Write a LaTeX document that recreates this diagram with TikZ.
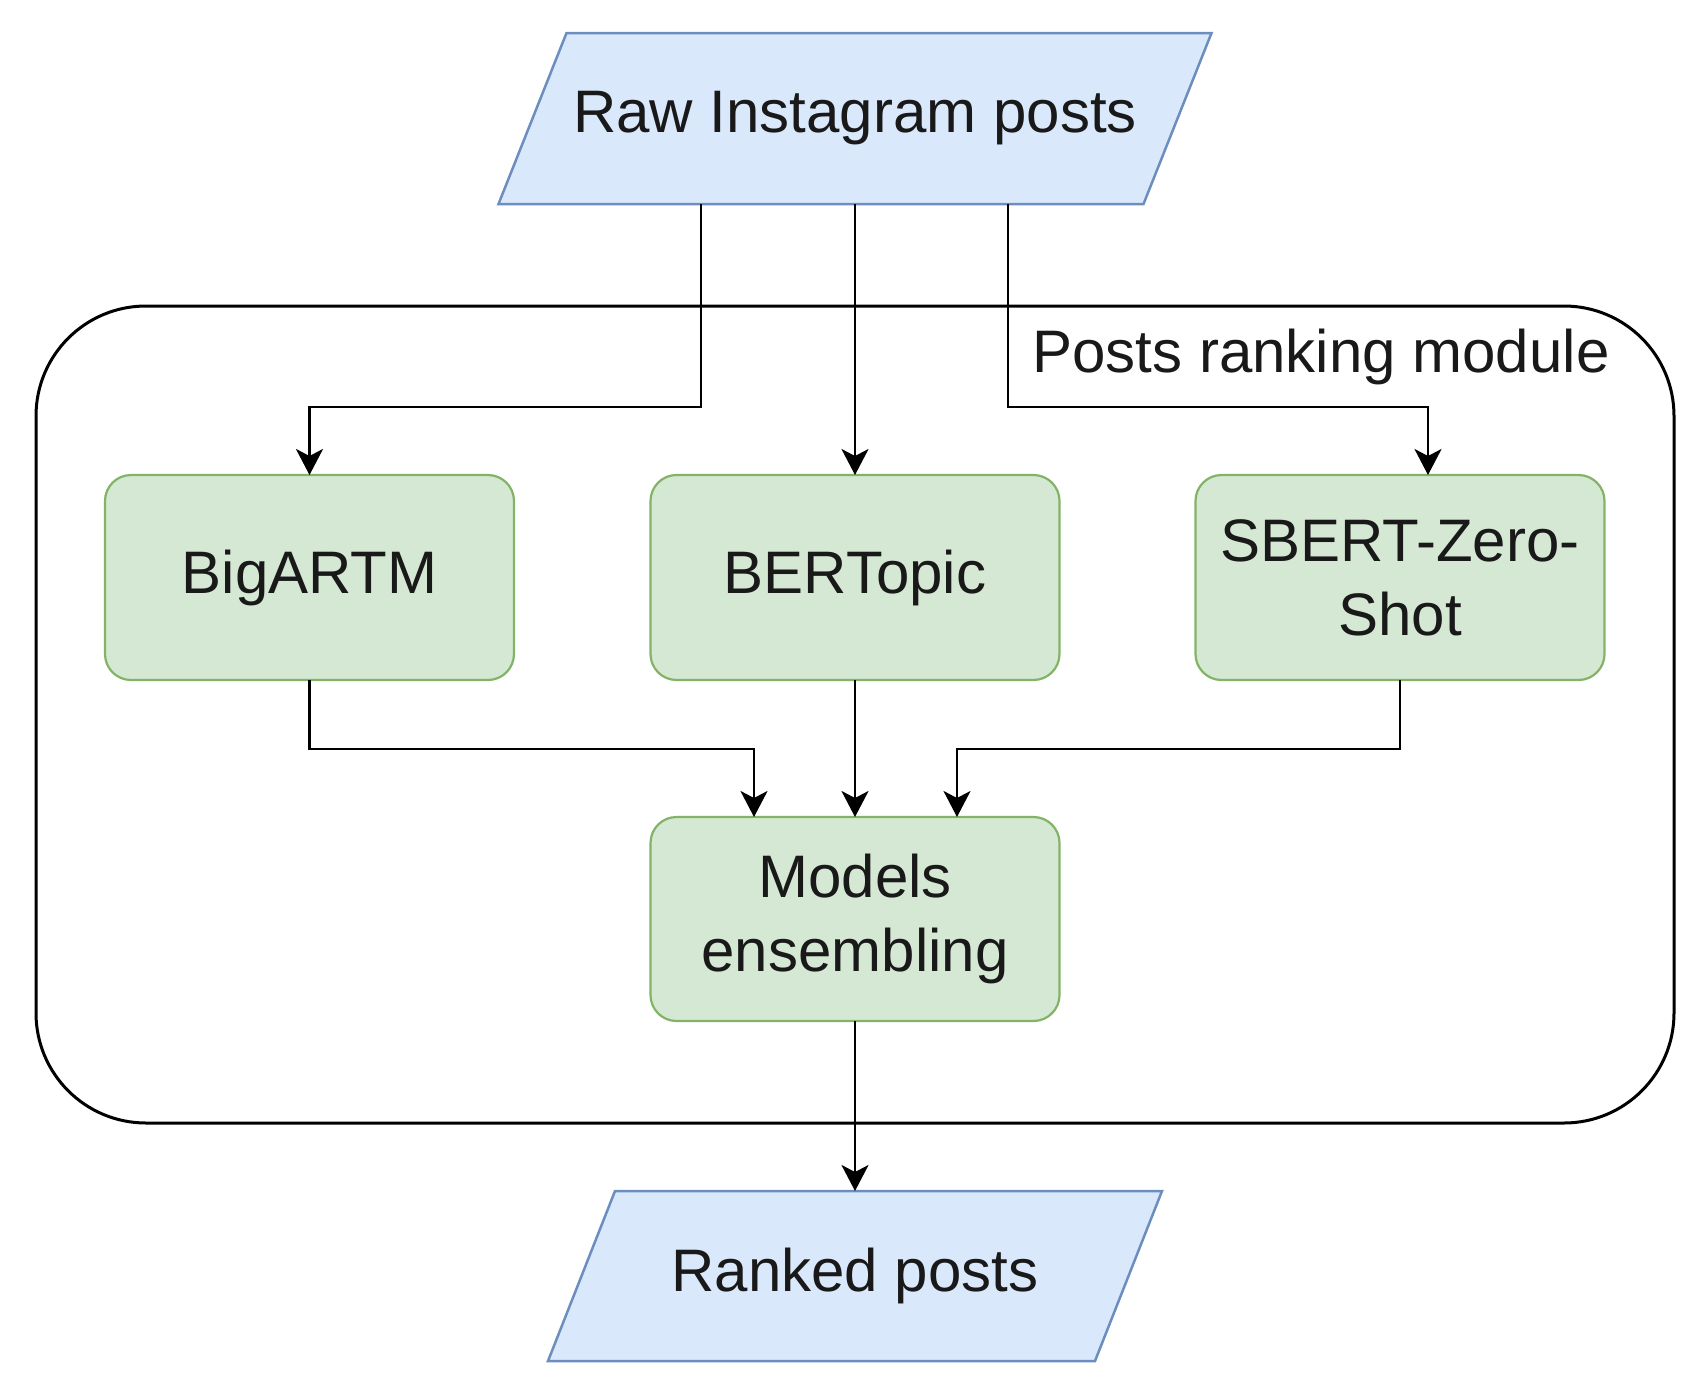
\documentclass[tikz,border=0pt]{standalone}
\usepackage{fontspec}
\setmainfont{Liberation Sans}
\usetikzlibrary{arrows.meta,calc,backgrounds}
\definecolor{bluefill}{HTML}{DAE8FC}
\definecolor{bluedraw}{HTML}{6C8EBF}
\definecolor{greenfill}{HTML}{D5E8D4}
\definecolor{greendraw}{HTML}{82B366}
\tikzset{
  txt/.style={font=\fontsize{60}{74}\selectfont, align=center, text=black!90},
  iobox/.style={txt, draw=none, minimum height=171pt, inner sep=0pt, outer sep=0pt},
  para/.style={fill=bluefill, draw=bluedraw, line width=2.5pt, line join=miter},
  model/.style={txt, rectangle, rounded corners=26pt, fill=greenfill, draw=greendraw,
    line width=2.2pt, minimum width=409pt, minimum height=205pt, inner sep=0pt, outer sep=0pt},
  conn/.style={line width=2.5pt, -{Stealth[length=26pt,width=27pt,inset=7pt]}},
  frame/.style={draw=black, line width=3pt, rounded corners=110pt, minimum width=1638pt,
    minimum height=817pt, inner sep=0pt, outer sep=0pt}
}
\begin{document}
\begin{tikzpicture}[x=1pt,y=-1pt]
\useasboundingbox (0,0) rectangle (1699,1384);
% container
\node[frame] (module) at (855,714.5) {};
\node[txt, anchor=center] (modlabel) at (1321,357) {Posts ranking module};
% input / output
\node[iobox, minimum width=645pt] (raw) at (855,118.5) {Raw Instagram posts};
\node[iobox, minimum width=547pt, minimum height=170pt] (ranked) at (855,1276) {Ranked posts};
\begin{pgfonlayer}{background}
\draw[para] ($(raw.north west)+(34,0)$) -- ($(raw.north east)+(34,0)$) --
  ($(raw.south east)+(-34,0)$) -- ($(raw.south west)+(-34,0)$) -- cycle;
\draw[para] ($(ranked.north west)+(33.5,0)$) -- ($(ranked.north east)+(33.5,0)$) --
  ($(ranked.south east)+(-33.5,0)$) -- ($(ranked.south west)+(-33.5,0)$) -- cycle;
\end{pgfonlayer}
% models
\node[model] (bigartm) at (309.5,577.5) {BigARTM};
\node[model] (bertopic) at (855,577.5) {BERTopic};
\node[model] (sbert) at (1400,577.5) {SBERT-Zero-\\Shot};
\node[model, minimum height=204pt] (ensemble) at (855,919) {Models\\ensembling};
% connectors
\draw[conn] ([xshift=-154pt]raw.south) |- ($(bigartm.north)+(0,-68)$) -- (bigartm.north);
\draw[conn] (raw.south) -- (bertopic.north);
\draw[conn] ([xshift=153pt]raw.south) |- ($(sbert.north)+(28,-68)$) -- ([xshift=28pt]sbert.north);
\draw[conn] (bigartm.south) |- ($(ensemble.north)+(-101,-68)$) -- ([xshift=-101pt]ensemble.north);
\draw[conn] (bertopic.south) -- (ensemble.north);
\draw[conn] (sbert.south) |- ($(ensemble.north)+(102,-68)$) -- ([xshift=102pt]ensemble.north);
\draw[conn] (ensemble.south) -- (ranked.north);
\end{tikzpicture}
\end{document}
